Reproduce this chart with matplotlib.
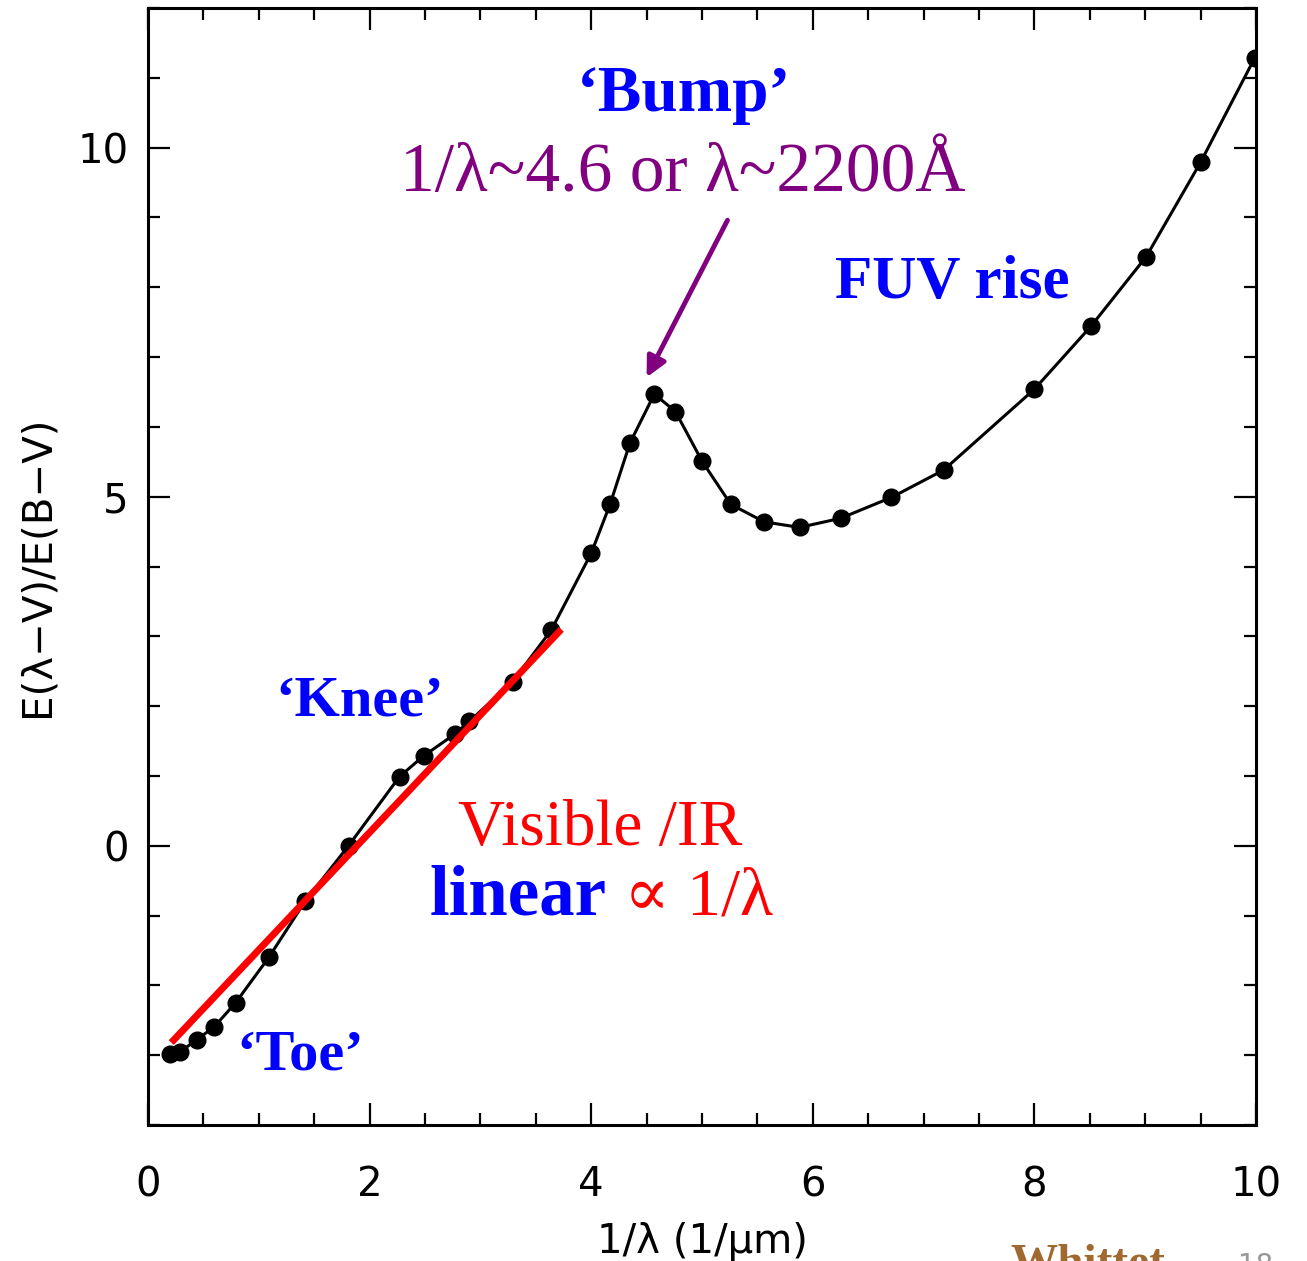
import matplotlib
matplotlib.use("Agg")
import matplotlib.pyplot as plt
from matplotlib.ticker import MultipleLocator

# extinction curve points
inv_lam = [0.20, 0.29, 0.44, 0.60, 0.79, 1.09, 1.42, 1.81, 2.27, 2.49, 2.77, 2.90,
           3.29, 3.64, 4.00, 4.17, 4.35, 4.57, 4.76, 5.00, 5.26, 5.56, 5.88, 6.25,
           6.71, 7.18, 8.00, 8.51, 9.01, 9.50, 9.99]
ratio = [-2.99, -2.95, -2.78, -2.59, -2.25, -1.60, -0.79, 0.00, 0.99, 1.29, 1.60, 1.78,
         2.35, 3.09, 4.19, 4.89, 5.77, 6.47, 6.22, 5.51, 4.89, 4.64, 4.56, 4.69,
         4.99, 5.38, 6.54, 7.44, 8.44, 9.79, 11.29]

# straight-line fit drawn in red
fit_x = [0.21, 3.73]
fit_y = [-2.82, 3.10]

sans = ['DejaVu Sans Condensed', 'DejaVu Sans']
serif = ['Liberation Serif', 'DejaVu Serif']
blue = '#0000ff'
purple = '#800080'
red = '#ff0000'

fig = plt.figure(figsize=(13.07, 12.61), dpi=100)
ax = fig.add_axes([148 / 1307, 1 - 1125 / 1261, (1256 - 148) / 1307, (1125 - 8) / 1261])

ax.plot(inv_lam, ratio, '-', color='black', lw=2.2, marker='o', ms=12, zorder=3)
ax.plot(fit_x, fit_y, '-', color=red, lw=5, zorder=4, solid_capstyle='butt')

ax.set_xlim(0, 10)
ax.set_ylim(-4, 12)
ax.xaxis.set_major_locator(MultipleLocator(2))
ax.xaxis.set_minor_locator(MultipleLocator(0.5))
ax.yaxis.set_major_locator(MultipleLocator(5))
ax.yaxis.set_minor_locator(MultipleLocator(1))
ax.tick_params(which='both', direction='in', top=True, right=True, width=1.6)
ax.tick_params(which='major', length=16)
ax.tick_params(which='minor', length=8.5)
ax.tick_params(axis='x', which='major', pad=29)
ax.tick_params(axis='y', which='major', pad=14)
for s in ax.spines.values():
    s.set_linewidth(2.2)
for lab in ax.get_xticklabels() + ax.get_yticklabels():
    lab.set_family(sans)
    lab.set_fontsize(29)

ax.set_xlabel('1/λ (1/μm)', family=sans, fontsize=29, labelpad=12)
ax.set_ylabel('E(λ−V)/E(B−V)', family=sans, fontsize=29, labelpad=14)

# annotations
ax.text(4.84, 10.53, '\u2018Bump\u2019', color=blue, family=serif, weight='bold',
        fontsize=47, ha='center', va='baseline')
ax.text(4.83, 9.38, '1/λ~4.6 or λ~2200Å', color=purple, family=serif,
        fontsize=50, ha='center', va='baseline')
ax.annotate('', xy=(4.50, 6.71), xytext=(5.23, 8.96),
            arrowprops=dict(arrowstyle='-|>', color=purple, lw=3.5,
                            mutation_scale=30, shrinkA=0, shrinkB=0))
ax.text(7.26, 7.84, 'FUV rise', color=blue, family=serif, weight='bold',
        fontsize=44, ha='center', va='baseline')
ax.text(1.91, 1.86, '\u2018Knee\u2019', color=blue, family=serif, weight='bold',
        fontsize=42, ha='center', va='baseline')
ax.text(1.37, -3.20, '\u2018Toe\u2019', color=blue, family=serif, weight='bold',
        fontsize=42, ha='center', va='baseline')
ax.text(4.08, 0.01, 'Visible /IR', color=red, family=serif,
        fontsize=47, ha='center', va='baseline')
ax.text(4.14, -0.99, 'linear', color=blue, family=serif, weight='bold',
        fontsize=51, ha='right', va='baseline')
ax.text(4.30, -0.99, '∝ 1/λ', color=red, family=serif,
        fontsize=49, ha='left', va='baseline')

# slide footer, cut off by the bottom edge as in the source slide
fig.text(1010 / 1307, 1 - 1243 / 1261, 'Whittet', color='#a0692f', family=serif,
         weight='bold', fontsize=34, ha='left', va='top')
fig.text(1238 / 1307, 1 - 1252 / 1261, '18', color='#999999', family=sans,
         fontsize=20, ha='left', va='top')

fig.savefig('out.png', dpi=100)
